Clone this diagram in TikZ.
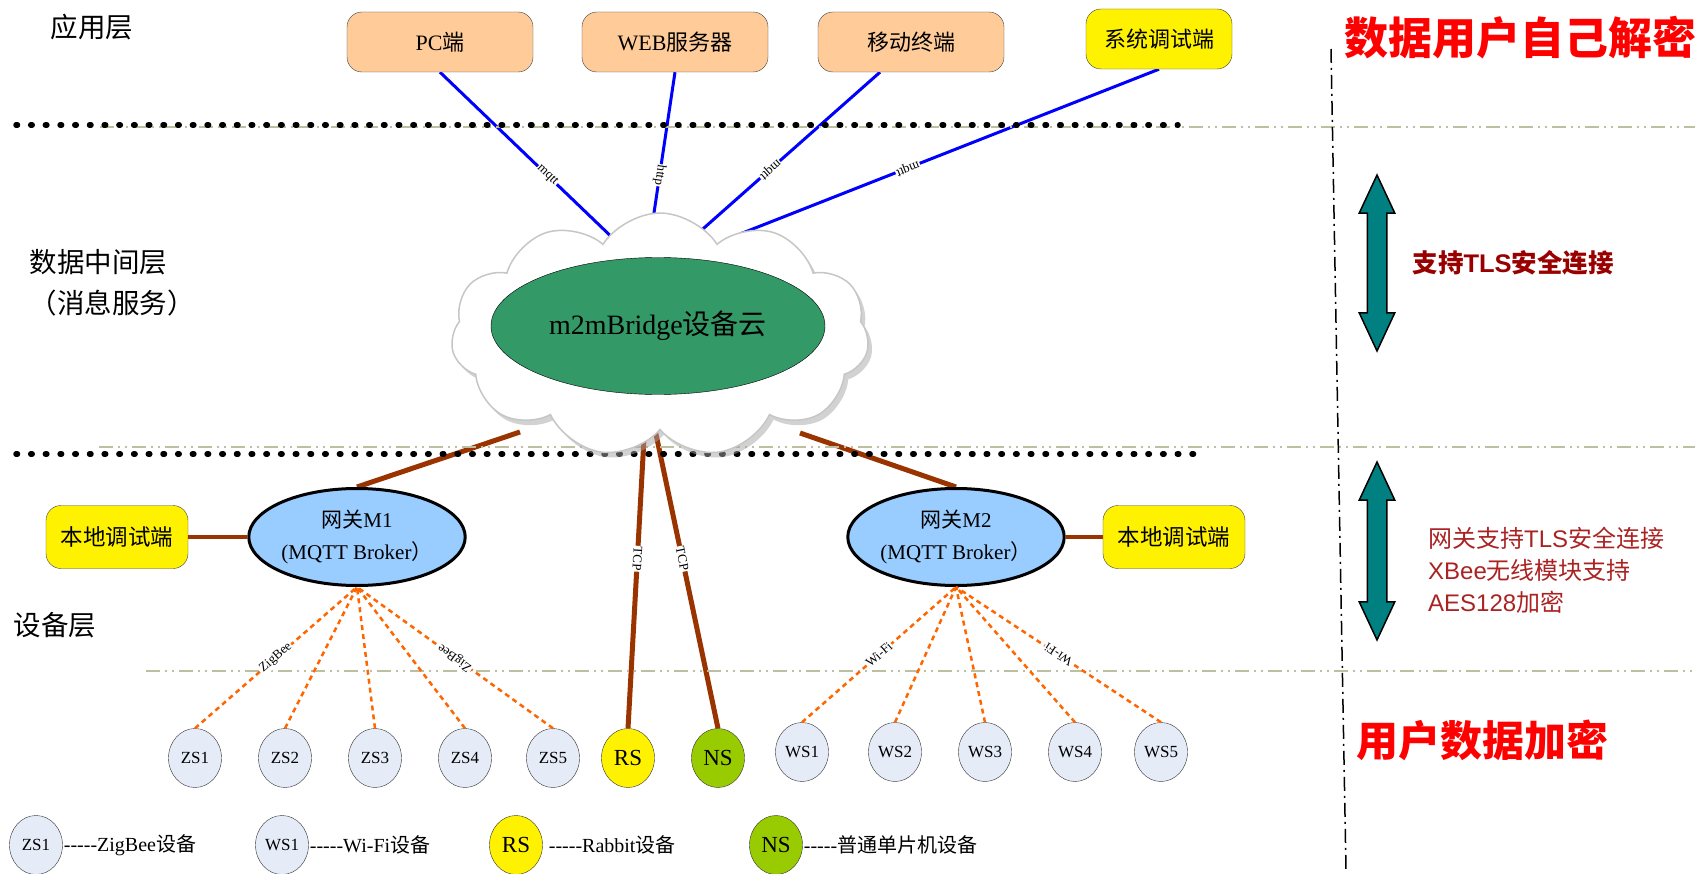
\documentclass[tikz,border=0pt]{standalone}
\usepackage{fontspec}
\setmainfont{Liberation Serif}
\setsansfont{Liberation Sans}
\newfontfamily\zhfont{Noto Sans CJK SC}
\newcommand{\zh}[1]{{\zhfont #1}}
\newcommand{\keydash}{-{}-{}-{}-{}-}
\usetikzlibrary{shapes.geometric,shapes.symbols,shapes.arrows,shadows,positioning}
\pgfdeclarelayer{background}
\pgfsetlayers{background,main}
\definecolor{peach}{RGB}{255,204,153}
\definecolor{gwblue}{RGB}{153,204,255}
\definecolor{bridgegreen}{RGB}{51,153,102}
\definecolor{linkbrown}{RGB}{153,51,0}
\definecolor{wlorange}{RGB}{255,102,0}
\definecolor{devfill}{RGB}{230,236,247}
\definecolor{nsgreen}{RGB}{153,204,0}
\definecolor{sepcolor}{RGB}{190,190,160}
\definecolor{tealarrow}{RGB}{0,128,128}
\definecolor{tlsred}{RGB}{153,0,0}
\definecolor{notered}{RGB}{170,35,35}

\begin{document}
\begin{tikzpicture}[x=1pt,y=-1pt,
        appbox/.style={draw=black!75, fill=peach, rounded corners=15pt, minimum width=186pt,
            minimum height=60pt, font=\fontsize{22}{26}\selectfont},
        debugbox/.style={appbox, fill=yellow, minimum width=146pt},
        localbox/.style={debugbox, minimum width=142pt, minimum height=63pt, font=\fontsize{22.5}{26}\selectfont},
        gateway/.style={ellipse, draw, line width=3pt, fill=gwblue, minimum width=177pt,
            minimum height=97pt, inner sep=1pt, align=center, font=\fontsize{21}{32}\selectfont},
        dev/.style={ellipse, draw=black!80, fill=devfill, minimum width=53pt, minimum height=59pt,
            inner sep=0pt, font=\fontsize{17}{20}\selectfont},
        bigdev/.style={dev, font=\fontsize{23}{26}\selectfont},
        layer/.style={font=\fontsize{27.5}{41}\selectfont\zhfont, align=left},
        bluelink/.style={draw=blue, line width=3pt},
        brownlink/.style={draw=linkbrown, line width=5pt},
        wireless/.style={draw=wlorange, line width=2.5pt, dash pattern=on 5pt off 4pt},
        lbl/.style={sloped, allow upside down, fill=white, inner sep=1pt, font=\fontsize{13}{14}\selectfont},
        sepline/.style={draw=sepcolor, line width=2pt, dash pattern=on 14pt off 5pt on 2pt off 5pt on 2pt off 5pt},
        dotline/.style={line width=5.5pt, line cap=round, dash pattern=on 1.5pt off 13.2pt},
        tlsarrow/.style={double arrow, rotate=90, draw, line width=1.5pt, fill=tealarrow,
            minimum width=34pt, double arrow head extend=8pt, double arrow tip angle=50, inner sep=9pt},
        legendtext/.style={anchor=west, inner sep=1pt, font=\fontsize{20}{24}\selectfont}]

    \useasboundingbox (0,0) rectangle (1695,874);

    % layer borders
    \draw[sepline] (100,127) -- (1695,127);
    \draw[sepline] (99,447) -- (1695,447);
    \draw[sepline] (146,671) -- (1695,671);
    \draw[dotline] (16,125) -- (1178,125);
    \draw[dotline] (16,454) -- (1195,454);
    \draw[line width=1.5pt, dash pattern=on 14pt off 5pt on 2pt off 5pt] (1331,49) -- (1346,870);

    \node[layer] (applayer) at (92,27) {应用层};
    \node[layer, anchor=west] (midlayer) at (26,283) {数据中间层\\（消息服务）};
    \node[layer] (devlayer) at (55,625) {设备层};

    % application layer
    \node[appbox] (pc) at (440,42) {PC\zh{端}};
    \node[appbox] (web) [right of=pc, node distance=235pt] {WEB\zh{服务器}};
    \node[appbox] (mobile) [right of=web, node distance=236pt] {\zh{移动终端}};
    \node[debugbox] (sysdebug) [right of=mobile, node distance=248pt, yshift=3pt] {\zh{系统调试端}};

    % cloud
    \node[cloud, cloud puffs=11, cloud puff arc=115, aspect=1.9, draw=gray!45, line width=1.5pt,
        fill=white, minimum width=418pt, minimum height=244pt,
        drop shadow={shadow xshift=4pt, shadow yshift=-5pt, fill=gray!70}] (cloud) at (660,335) {};
    \node[ellipse, draw, fill=bridgegreen, minimum width=334pt, minimum height=137pt,
        font=\fontsize{28}{32}\selectfont] (bridge) at (658,326) {m2mBridge\zh{设备云}};

    \coordinate (in-pc) at (619,244);
    \coordinate (in-web) at (648,253);
    \coordinate (in-mobile) at (687,243);
    \coordinate (in-sys) at (740,234);
    \coordinate (in-gw1) at (520,432);
    \coordinate (in-gw2) at (800,433);
    \coordinate (in-rs) at (645,420);
    \coordinate (in-ns) at (653,420);

    % gateways
    \node[gateway] (gw1) at (357,537) {\zh{网关}M1\\(MQTT Broker\zh{）}};
    \node[gateway] (gw2) at (956,537) {\zh{网关}M2\\(MQTT Broker\zh{）}};
    \node[localbox] (local1) [left of=gw1, node distance=240pt] {\zh{本地调试端}};
    \node[localbox] (local2) [right of=gw2, node distance=218pt] {\zh{本地调试端}};

    % devices
    \node[dev] (zs1) at (195,758) {ZS1};
    \node[dev] (zs2) [right of=zs1, node distance=90pt] {ZS2};
    \node[dev] (zs3) [right of=zs2, node distance=90pt] {ZS3};
    \node[dev] (zs4) [right of=zs3, node distance=90pt] {ZS4};
    \node[dev] (zs5) [right of=zs4, node distance=88pt] {ZS5};
    \node[bigdev, fill=yellow] (rs) [right of=zs5, node distance=75pt] {RS};
    \node[bigdev, fill=nsgreen] (ns) [right of=rs, node distance=90pt] {NS};
    \node[dev] (ws1) at (802,752) {WS1};
    \node[dev] (ws2) [right of=ws1, node distance=93pt] {WS2};
    \node[dev] (ws3) [right of=ws2, node distance=90pt] {WS3};
    \node[dev] (ws4) [right of=ws3, node distance=90pt] {WS4};
    \node[dev] (ws5) [right of=ws4, node distance=86pt] {WS5};

    % legend
    \node[dev] (key-zs) at (36,845) {ZS1};
    \node[legendtext] (key-zs-text) at (key-zs.east) {\keydash ZigBee\zh{设备}};
    \node[dev] (key-ws) at (282,845) {WS1};
    \node[legendtext] (key-ws-text) at (key-ws.east) {\keydash Wi-Fi\zh{设备}};
    \node[bigdev, fill=yellow] (key-rs) at (516,845) {RS};
    \node[legendtext] (key-rs-text) at ([xshift=5pt]key-rs.east) {\keydash Rabbit\zh{设备}};
    \node[bigdev, fill=nsgreen] (key-ns) at (776,845) {NS};
    \node[legendtext] (key-ns-text) at (key-ns.east) {\keydash\zh{普通单片机设备}};

    % right side notes
    \node[text=red, font=\fontsize{44}{50}\selectfont\zhfont\bfseries] (decrypt) at (1520,38)
        {数据用户自己解密};
    \node[tlsarrow, minimum height=176pt] (arrow1) at (1377,263) {};
    \node[text=tlsred, font=\fontsize{25.5}{28}\selectfont\bfseries, anchor=west] (tls1) at (1409,263)
        {\zh{支持}\sffamily TLS\zh{安全连接}};
    \node[tlsarrow, minimum height=178pt] (arrow2) at (1377,551) {};
    \node[text=notered, font=\fontsize{24}{32}\selectfont\sffamily, anchor=west, align=left,
        inner sep=0pt] (tls2) at (1428,570)
        {\zh{网关支持}TLS\zh{安全连接}\\XBee\zh{无线模块支持}\\AES128\zh{加密}};
    \node[text=red, font=\fontsize{42}{48}\selectfont\zhfont\bfseries] (encrypt) at (1482,740) {用户数据加密};

    % links
    \begin{pgfonlayer}{background}
    \path (pc.south) edge[bluelink] node[lbl, pos=.6] {mqtt} (in-pc);
    \path (web.south) edge[bluelink] node[lbl, pos=.57] {http} (in-web);
    \path ([xshift=-31pt]mobile.south) edge[bluelink] node[lbl, pos=.57] {mqtt} (in-mobile);
    \path (sysdebug.south) edge[bluelink] node[lbl, pos=.6] {mqtt} (in-sys);
    \path (in-gw1) edge[brownlink] (gw1.north);
    \path (in-gw2) edge[brownlink] (gw2.north);
    \path (in-rs) edge[brownlink] node[lbl, pos=.45] {TCP} (rs.north);
    \path (in-ns) edge[brownlink] node[lbl, pos=.45] {TCP} (ns.north);
    \end{pgfonlayer}
    \path (local1) edge[brownlink, line width=3.5pt] (gw1);
    \path (local2) edge[brownlink, line width=3.5pt] (gw2);

    \path (zs1.north) edge[wireless] node[lbl] {ZigBee} (gw1.south);
    \path (zs2.north) edge[wireless] (gw1.south);
    \path (zs3.north) edge[wireless] (gw1.south);
    \path (zs4.north) edge[wireless] (gw1.south);
    \path (zs5.north) edge[wireless] node[lbl] {ZigBee} (gw1.south);
    \path (ws1.north) edge[wireless] node[lbl] {Wi-Fi} (gw2.south);
    \path (ws2.north) edge[wireless] (gw2.south);
    \path (ws3.north) edge[wireless] (gw2.south);
    \path (ws4.north) edge[wireless] (gw2.south);
    \path (ws5.north) edge[wireless] node[lbl] {Wi-Fi} (gw2.south);

\end{tikzpicture}
\end{document}
